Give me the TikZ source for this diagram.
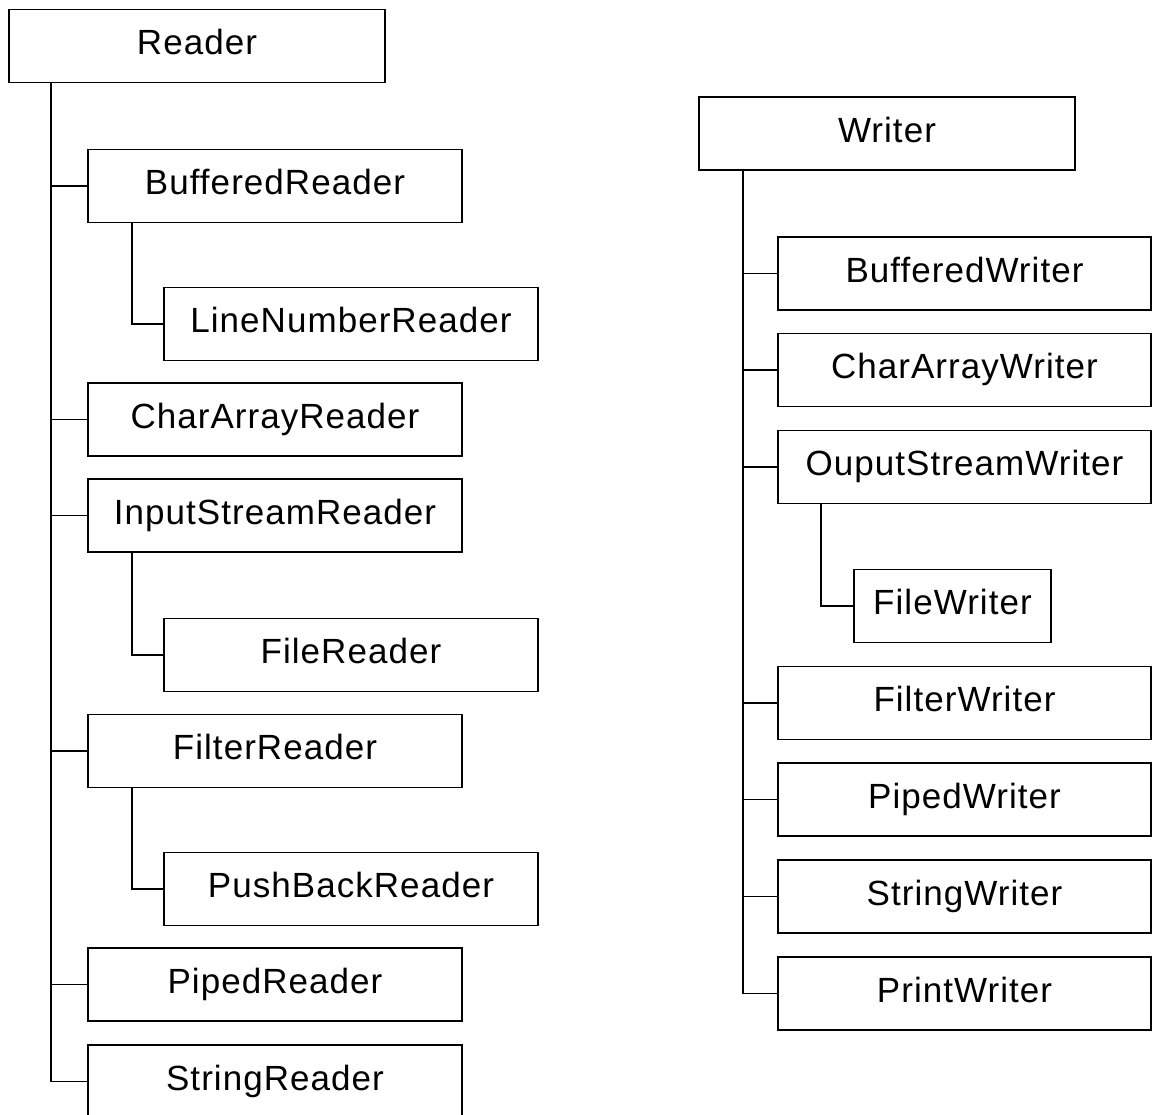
\documentclass[tikz,border=0pt]{standalone}
\usepackage{fontspec}
\setmainfont[LetterSpace=3]{Liberation Sans}
\begin{document}
\begin{tikzpicture}[x=1pt,y=-1pt,
  cls/.style={draw, line width=1.8pt, inner sep=0pt, minimum width=374pt, minimum height=73pt,
    text height=21pt, text depth=3.4pt, font=\fontsize{35}{42}\selectfont},
  wide/.style={minimum width=376pt},
  link/.style={line width=1.8pt}]
\useasboundingbox (0,0) rectangle (1152,1115);
% Reader tree
\node[cls,wide] (reader) at (197,46) {Reader};
\node[cls] (buffr) at (275,186) {BufferedReader};
\node[cls] (linenr) at (351,324) {LineNumberReader};
\node[cls] (chararr) at (275,419.5) {CharArrayReader};
\node[cls] (isr) at (275,515.5) {InputStreamReader};
\node[cls] (filer) at (351,655) {FileReader};
\node[cls] (filterr) at (275,751) {FilterReader};
\node[cls] (pushb) at (351,889) {PushBackReader};
\node[cls] (piper) at (275,984.5) {PipedReader};
\node[cls] (stringr) at (275,1081.5) {StringReader};
\coordinate (rt) at ([xshift=43pt]reader.south west);
\foreach \n in {buffr,chararr,isr,filterr,piper,stringr}
  \draw[link] (rt) |- (\n.west);
\draw[link] ([xshift=45pt]buffr.south west) |- (linenr.west);
\draw[link] ([xshift=45pt]isr.south west) |- (filer.west);
\draw[link] ([xshift=45pt]filterr.south west) |- (pushb.west);
% Writer tree
\node[cls,wide] (writer) at (887,133.5) {Writer};
\node[cls,minimum width=373pt] (buffw) at (964.5,273.5) {BufferedWriter};
\node[cls,minimum width=373pt] (charw) at (964.5,370) {CharArrayWriter};
\node[cls,minimum width=373pt] (osw) at (964.5,467) {OuputStreamWriter};
\node[cls,minimum width=197pt] (filew) at (952.5,606) {FileWriter};
\node[cls,minimum width=373pt] (filterw) at (964.5,703) {FilterWriter};
\node[cls,minimum width=373pt] (pipew) at (964.5,799.5) {PipedWriter};
\node[cls,minimum width=373pt] (stringw) at (964.5,896.5) {StringWriter};
\node[cls,minimum width=373pt] (printw) at (964.5,993.5) {PrintWriter};
\coordinate (wt) at ([xshift=45pt]writer.south west);
\foreach \n in {buffw,charw,osw,filterw,pipew,stringw,printw}
  \draw[link] (wt) |- (\n.west);
\draw[link] ([xshift=44pt]osw.south west) |- (filew.west);
\end{tikzpicture}
\end{document}
